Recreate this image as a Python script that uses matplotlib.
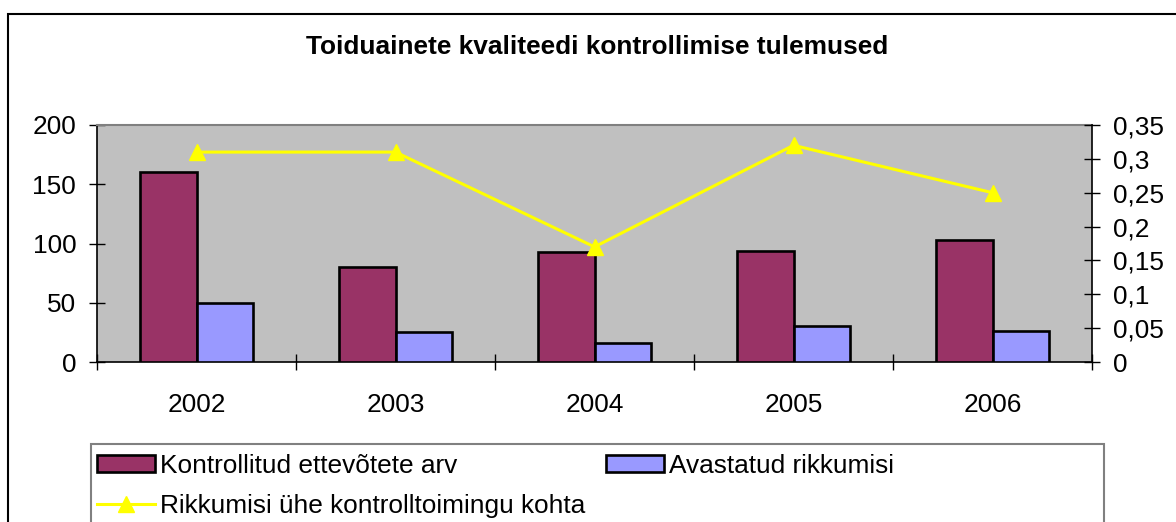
import matplotlib
matplotlib.use("Agg")
import matplotlib.pyplot as plt
from matplotlib.patches import Rectangle, Patch
from matplotlib.lines import Line2D
from matplotlib.ticker import FuncFormatter, FixedLocator
import numpy as np

plt.rcParams['font.family'] = ['Liberation Sans', 'DejaVu Sans']

years = ['2002', '2003', '2004', '2005', '2006']
kontrollitud = [160, 80, 93, 94, 103]
rikkumisi = [50, 25, 16, 30, 26]
suhe = [0.31, 0.31, 0.17, 0.32, 0.25]

title = 'Toiduainete kvaliteedi kontrollimise tulemused'
lab1 = 'Kontrollitud ettevõtete arv'
lab2 = 'Avastatud rikkumisi'
lab3 = 'Rikkumisi ühe kontrolltoimingu kohta'

maroon = '#993366'
blue = '#9999FF'
yellow = '#FFFF00'
FS = 18.9

W, H = 1176, 522
fig = plt.figure(figsize=(W / 100, H / 100), dpi=100)

L, R, T, B = 97, 1092, 125, 362
ax = fig.add_axes([L / W, 1 - B / H, (R - L) / W, (B - T) / H])
ax.set_facecolor('#C0C0C0')

x = np.arange(len(years))
bw = 1 / 3.5
ax.bar(x - bw / 2, kontrollitud, bw, color=maroon, edgecolor='black', linewidth=1.9, zorder=3)
ax.bar(x + bw / 2, rikkumisi, bw, color=blue, edgecolor='black', linewidth=1.9, zorder=3)
ax.set_xlim(-0.5, len(years) - 0.5)
ax.set_ylim(0, 200)
ax.set_yticks([0, 50, 100, 150, 200])
ax.set_xticks(x)
ax.set_xticklabels(years)
ax.xaxis.set_minor_locator(FixedLocator(np.arange(-0.5, len(years), 1.0)))
ax.tick_params(axis='x', which='major', length=0, pad=22, labelsize=FS)
ax.tick_params(axis='x', which='minor', direction='inout', length=12, width=1.0)
ax.tick_params(axis='y', direction='inout', length=12, width=1.0, pad=9, labelsize=FS)
for s in ['left', 'bottom']:
    ax.spines[s].set_color('black')
    ax.spines[s].set_linewidth(1.2)
ax.spines['top'].set_color('#808080')
ax.spines['top'].set_linewidth(1.5)
ax.spines['right'].set_visible(False)

ax2 = ax.twinx()
ax2.patch.set_visible(False)
ax2.plot(x, suhe, color=yellow, linewidth=2.2, marker='^', markersize=11.5,
         markerfacecolor=yellow, markeredgecolor=yellow, zorder=4)
ax2.set_ylim(0, 0.35)
ax2.set_yticks([0, 0.05, 0.1, 0.15, 0.2, 0.25, 0.3, 0.35])
ax2.yaxis.set_major_formatter(FuncFormatter(lambda v, p: ('%g' % round(v, 2)).replace('.', ',')))
ax2.tick_params(axis='y', direction='inout', length=12, width=1.0, pad=9, labelsize=FS)
for s in ['top', 'left', 'bottom']:
    ax2.spines[s].set_visible(False)
ax2.spines['right'].set_color('black')
ax2.spines['right'].set_linewidth(1.2)

fig.text(597 / W, 1 - 47 / H, title, ha='center', va='center', fontsize=FS, fontweight='bold')

# outer chart border
fig.patches.append(Rectangle((8 / W, -0.1), 1.2, (H - 14) / H + 0.1, transform=fig.transFigure,
                             fill=False, edgecolor='black', linewidth=1.5, clip_on=False))
# legend frame
fig.patches.append(Rectangle((91 / W, -0.1), (1104 - 91) / W, (H - 444) / H + 0.1,
                             transform=fig.transFigure, fill=False, edgecolor='#808080',
                             linewidth=1.5, clip_on=False))

h1 = Patch(facecolor=maroon, edgecolor='black', linewidth=1.9)
h2 = Patch(facecolor=blue, edgecolor='black', linewidth=1.9)
h3 = Line2D([], [], color=yellow, linewidth=2.2, marker='^', markersize=11.5,
            markerfacecolor=yellow, markeredgecolor=yellow)
fig.legend([h1, h3, h2], [lab1, lab3, lab2], ncol=2, loc='upper left',
           bbox_to_anchor=(97 / W, 1 - 454 / H), frameon=False, fontsize=FS,
           borderpad=0, borderaxespad=0, handlelength=2.2, handleheight=0.62,
           handletextpad=0.2, labelspacing=0.62, columnspacing=0.8)

fig.savefig('out.png', dpi=100)
